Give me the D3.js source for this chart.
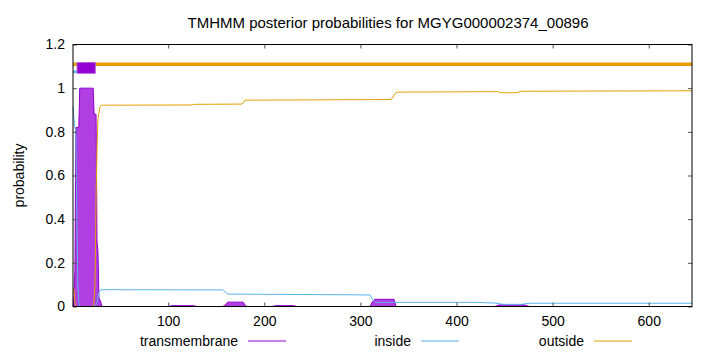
<!DOCTYPE html>
<html>
<head>
<script src="https://d3js.org/d3.v7.min.js"></script>
<style>
  body { margin: 0; background: white; }
  svg { font-family: "Liberation Sans", Arial, Helvetica, sans-serif; }
</style>
</head>
<body>
<svg id="chart" width="720" height="352"></svg>
<script>
// residue positions / posterior probabilities
const tmPos  = [1, 2, 3, 4, 7, 8, 22, 23, 25, 26, 27, 28, 30, 31, 100, 104, 126, 130, 157, 160, 162, 178, 181, 208, 212, 230, 234, 310, 313, 315, 335, 337, 440, 445, 470, 476, 645];
const tmProb = [0, 0.05, 0.17, 0.82, 0.82, 1.0, 1.0, 0.88, 0.88, 0.3, 0.25, 0.04, 0.02, 0, 0, 0.004, 0.004, 0, 0, 0.01, 0.02, 0.02, 0, 0, 0.004, 0.004, 0, 0, 0.025, 0.033, 0.033, 0, 0, 0.008, 0.008, 0, 0];

const inPos  = [1, 2, 3, 4, 5, 6, 7, 8, 24, 26, 28, 30, 157, 162, 310, 313, 316, 420, 440, 448, 468, 475, 645];
const inProb = [0.915, 0.86, 0.82, 0.8, 0.4, 0.1, 0.02, 0, 0, 0.02, 0.065, 0.077, 0.076, 0.057, 0.053, 0.03, 0.019, 0.019, 0.016, 0.01, 0.01, 0.015, 0.015];

const outPos  = [1, 2, 3, 4, 22, 23, 24, 25, 26, 27, 29, 31, 125, 127, 177, 180, 332, 336, 338, 443, 446, 462, 468, 645];
const outProb = [0.085, 0.08, 0.02, 0, 0, 0.03, 0.12, 0.5, 0.72, 0.86, 0.915, 0.922, 0.923, 0.926, 0.927, 0.945, 0.948, 0.975, 0.982, 0.984, 0.979, 0.979, 0.986, 0.988];

// predicted topology (bars above the curves)
const topoType  = ["outside", "inside", "TMhelix"];
const topoStart = [1, 1, 5];
const topoEnd   = [645, 5, 24];

const seqLength = 645;
const yTicks = [0, 0.2, 0.4, 0.6, 0.8, 1, 1.2];
const xTicks = [100, 200, 300, 400, 500, 600];
const legendLabels = ["transmembrane", "inside", "outside"];

const colors = { TMhelix: "#9400d3", inside: "#56b4e9", outside: "#e69f00" };

const svg = d3.select("#chart");
const plotL = 73, plotR = 692, plotT = 44.5, plotB = 306.5;

const x = d3.scaleLinear().domain([1, seqLength]).range([plotL, plotR]);
const y = d3.scaleLinear().domain([0, 1.2]).range([plotB, plotT]);

function series(pos, val) { return pos.map((p, i) => [p, val[i]]); }

// transmembrane as filled impulses
svg.append("path")
  .datum(series(tmPos, tmProb))
  .attr("fill", "#b03ee0")
  .attr("d", d3.area().x(d => x(d[0])).y0(y(0)).y1(d => y(d[1])));
svg.append("path")
  .datum(series(tmPos, tmProb))
  .attr("fill", "none")
  .attr("stroke", colors.TMhelix)
  .attr("stroke-width", 1)
  .attr("d", d3.line().x(d => x(d[0])).y(d => y(d[1])));

const line = d3.line().x(d => x(d[0])).y(d => y(d[1]));
svg.append("path")
  .datum(series(inPos, inProb))
  .attr("fill", "none")
  .attr("stroke", colors.inside)
  .attr("stroke-width", 1)
  .attr("d", line);
svg.append("path")
  .datum(series(outPos, outProb))
  .attr("fill", "none")
  .attr("stroke", colors.outside)
  .attr("stroke-width", 1)
  .attr("d", line);

// topology bars
topoType.forEach((t, i) => {
  if (t == "TMhelix") {
    svg.append("rect")
      .attr("x", x(topoStart[i] + 0.2))
      .attr("y", y(1.118))
      .attr("width", x(topoEnd[i] + 0.2) - x(topoStart[i] + 0.2))
      .attr("height", y(1.068) - y(1.118))
      .attr("fill", colors.TMhelix)
      .attr("stroke", "#b060e0")
      .attr("stroke-width", 0.8);
  } else {
    const lv = t == "outside" ? 1.11 : 1.075;
    svg.append("line")
      .attr("x1", x(topoStart[i])).attr("x2", x(topoEnd[i]))
      .attr("y1", y(lv)).attr("y2", y(lv))
      .attr("stroke", colors[t])
      .attr("stroke-width", t == "outside" ? 3.5 : 2.5);
  }
});

// axes, ticks pointing inward, mirrored
const fmt = d => String(+d.toFixed(1));
svg.append("g").attr("transform", `translate(0,${plotB})`)
  .call(d3.axisBottom(x).tickValues(xTicks).tickSize(-4).tickPadding(10));
svg.append("g").attr("transform", `translate(${plotL},0)`)
  .call(d3.axisLeft(y).tickValues(yTicks).tickFormat(fmt).tickSize(-4).tickPadding(8));
svg.append("g").attr("transform", `translate(0,${plotT})`)
  .call(d3.axisTop(x).tickValues(xTicks).tickSize(-4).tickFormat(""));
svg.append("g").attr("transform", `translate(${plotR},0)`)
  .call(d3.axisRight(y).tickValues(yTicks).tickSize(-4).tickFormat(""));
svg.selectAll(".domain").remove();
svg.selectAll(".tick line").attr("stroke", "#555");
svg.selectAll(".tick text").attr("font-size", 14).attr("fill", "#000")
  .attr("font-family", '"Liberation Sans", Arial, sans-serif');

svg.append("rect")
  .attr("x", plotL).attr("y", plotT)
  .attr("width", plotR - plotL).attr("height", plotB - plotT)
  .attr("fill", "none").attr("stroke", "#000").attr("stroke-width", 1);

// title and y label
svg.append("text")
  .attr("x", 388).attr("y", 28)
  .attr("text-anchor", "middle")
  .attr("font-size", 15)
  .text("TMHMM posterior probabilities for MGYG000002374_00896");
svg.append("text")
  .attr("transform", `translate(19,${(plotT + plotB) / 2}) rotate(-90)`)
  .attr("text-anchor", "middle")
  .attr("dy", "0.35em")
  .attr("font-size", 14)
  .text("probability");

// legend along the bottom
const legendEnds = [238, 411, 584];
const legendKeys = ["TMhelix", "inside", "outside"];
legendLabels.forEach((lab, i) => {
  svg.append("text")
    .attr("x", legendEnds[i]).attr("y", 341)
    .attr("dy", "0.35em")
    .attr("text-anchor", "end")
    .attr("font-size", 14)
    .text(lab);
  svg.append("line")
    .attr("x1", legendEnds[i] + 10).attr("x2", legendEnds[i] + 48)
    .attr("y1", 341).attr("y2", 341)
    .attr("stroke", colors[legendKeys[i]]).attr("stroke-width", 1);
});
</script>
</body>
</html>
